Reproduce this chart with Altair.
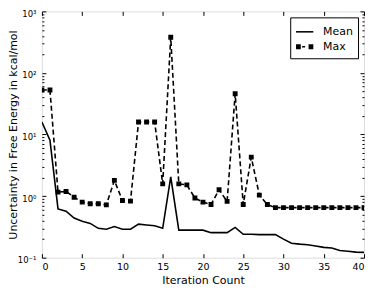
import altair as alt
import pandas as pd

iterations = list(range(41))
mean_vals = [16, 8.1, 0.62, 0.57, 0.44, 0.39, 0.36, 0.30, 0.29, 0.32,
             0.29, 0.29, 0.35, 0.34, 0.33, 0.30, 2.05, 0.28, 0.28, 0.28,
             0.28, 0.255, 0.255, 0.255, 0.31, 0.24, 0.24, 0.237, 0.237, 0.237,
             0.20, 0.172, 0.166, 0.162, 0.155, 0.147, 0.144, 0.131, 0.127, 0.123,
             0.122]
max_vals = [53, 53, 1.16, 1.19, 0.96, 0.80, 0.75, 0.75, 0.72, 1.8,
            0.85, 0.83, 16, 16, 16, 1.58, 380, 1.58, 1.52, 0.93,
            0.80, 0.73, 1.27, 0.82, 46, 0.73, 4.3, 1.04, 0.73, 0.65,
            0.65, 0.65, 0.65, 0.65, 0.65, 0.65, 0.65, 0.65, 0.65, 0.65,
            0.65]
series_names = ["Mean", "Max"]

x_ticks = [0, 5, 10, 15, 20, 25, 30, 35, 40]
y_major = [0.1, 1, 10, 100, 1000]
y_minor = [0.2, 0.3, 0.4, 0.5, 0.6, 0.7, 0.8, 0.9,
           2, 3, 4, 5, 6, 7, 8, 9,
           20, 30, 40, 50, 60, 70, 80, 90,
           200, 300, 400, 500, 600, 700, 800, 900]
y_ticks = y_major + y_minor

mean_df = pd.DataFrame({"iter": iterations, "val": mean_vals})
max_df = pd.DataFrame({"iter": iterations, "val": max_vals})
legend_df = pd.DataFrame({"series": series_names, "iter": [None, None], "val": [None, None]})

W, H = 323, 247
FONT = "DejaVu Sans"

xscale = alt.Scale(domain=[0, 40], nice=False, zero=False)
yscale = alt.Scale(type="log", domain=[0.1, 1000], nice=False)

label_expr = ("datum.value == 0.1 ? '10⁻¹' : datum.value == 1 ? '10⁰' : "
              "datum.value == 10 ? '10¹' : datum.value == 100 ? '10²' : "
              "datum.value == 1000 ? '10³' : ''")
major_test = "indexof([0.1, 1, 10, 100, 1000], datum.value) >= 0"
ytick_size = {"condition": {"test": major_test, "value": 4}, "value": 2}

# Layer 1: Mean line with labelled axes
x_lab = alt.X("iter:Q", scale=xscale, axis=alt.Axis(
    orient="bottom", values=x_ticks, ticks=False, domain=False, grid=False,
    labelFontSize=9.5, labelPadding=4, labelFont=FONT, labelColor="black",
    title="Iteration Count", titleFont=FONT, titleFontSize=11,
    titleFontWeight="normal", titleColor="black", titlePadding=3))
y_lab = alt.Y("val:Q", scale=yscale, axis=alt.Axis(
    orient="left", values=y_ticks, ticks=False, domain=False, grid=False,
    labelExpr=label_expr, labelOverlap=False, labelFontSize=8.5,
    labelPadding=6, labelOffset=2, labelFont=FONT, labelColor="black",
    labelFlush=False,
    title="Uncertainty in Free Energy in kcal/mol", titleFont=FONT,
    titleFontSize=11, titleFontWeight="normal", titleColor="black",
    titleAngle=-90, titleX=-28, titleY=H / 2, titleBaseline="middle",
    titleAlign="center"))

mean_line = alt.Chart(mean_df).mark_line(
    color="black", strokeWidth=1.6, clip=True
).encode(x=x_lab, y=y_lab)

# Layer 2: Max dashed line, inward ticks at bottom and left
x_in_bottom = alt.X("iter:Q", scale=xscale, axis=alt.Axis(
    orient="top", offset=-H, values=x_ticks, labels=False, domain=False,
    grid=False, ticks=True, tickSize=4, tickColor="black", tickWidth=1,
    title=None))
y_in_left = alt.Y("val:Q", scale=yscale, axis=alt.Axis(
    orient="right", offset=-W, values=y_ticks, labels=False, domain=False,
    grid=False, ticks=True, tickSize=ytick_size, tickColor="black",
    tickWidth=1, title=None))

max_line = alt.Chart(max_df).mark_line(
    color="black", strokeWidth=1.6, strokeDash=[5, 3], clip=True
).encode(x=x_in_bottom, y=y_in_left)

# Layer 3: Max markers, inward ticks at top and right
x_in_top = alt.X("iter:Q", scale=xscale, axis=alt.Axis(
    orient="bottom", offset=-H, values=x_ticks, labels=False, domain=False,
    grid=False, ticks=True, tickSize=4, tickColor="black", tickWidth=1,
    title=None))
y_in_right = alt.Y("val:Q", scale=yscale, axis=alt.Axis(
    orient="left", offset=-W, values=y_ticks, labels=False, domain=False,
    grid=False, ticks=True, tickSize=ytick_size, tickColor="black",
    tickWidth=1, title=None))

max_pts = alt.Chart(max_df).mark_point(
    shape="square", filled=True, color="black", size=24, opacity=1, clip=True
).encode(x=x_in_top, y=y_in_right)

# Layer 4: legend only
mean_sym = "M-1,-0.09H1V0.09H-1Z"
max_sym = ("M-1,-0.3H-0.45V0.3H-1Z M0.45,-0.3H1V0.3H0.45Z "
           "M-0.3,-0.09H0.05V0.09H-0.3Z")
legend_layer = alt.Chart(legend_df).mark_point(
    filled=True, color="black", opacity=1
).encode(
    x=alt.X("iter:Q", scale=xscale, axis=None),
    y=alt.Y("val:Q", scale=yscale, axis=None),
    shape=alt.Shape("series:N", scale=alt.Scale(domain=series_names, range=[mean_sym, max_sym]),
                    legend=alt.Legend(
                        title=None, orient="top-right", offset=6,
                        strokeColor="black", fillColor="white", padding=5,
                        cornerRadius=0, symbolSize=300, symbolFillColor="black",
                        symbolOpacity=1, labelFont=FONT, labelFontSize=11,
                        labelColor="black", labelOffset=9, rowPadding=0,
                        labelLimit=60)),
)

chart = alt.layer(mean_line, max_line, max_pts, legend_layer).resolve_axis(
    x="independent", y="independent"
).properties(
    width=W, height=H,
    autosize=alt.AutoSizeParams(type="none"),
    padding={"left": 34, "top": 3, "right": 2, "bottom": 31},
).configure_view(stroke="black", strokeWidth=1).configure(background="white")

chart.save("out.html", embed_options={"renderer": "svg", "actions": False})
